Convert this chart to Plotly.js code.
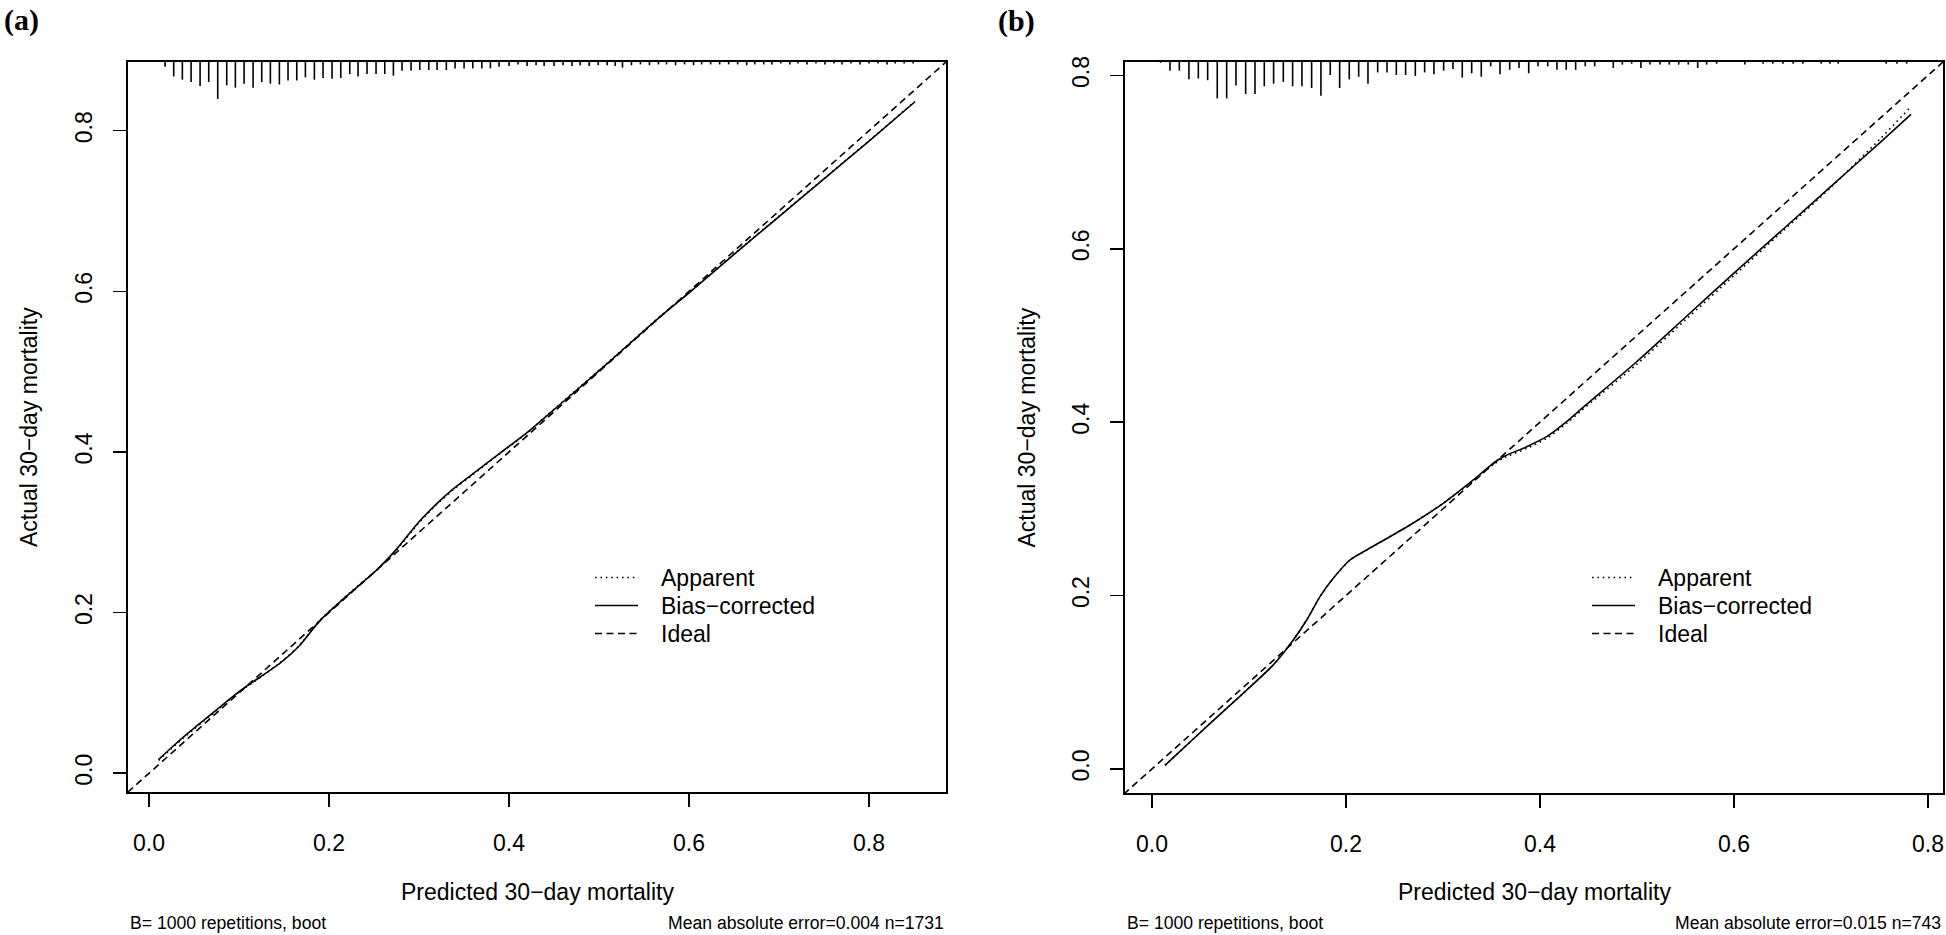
<!DOCTYPE html>
<html>
<head>
<meta charset="utf-8">
<script src="https://cdn.plot.ly/plotly-3.0.1.min.js"></script>
<style>html,body{margin:0;padding:0;background:#fff;}#plot{width:1946px;height:935px;}</style>
</head>
<body>
<div id="plot"></div>
<script>
// ---------- data ----------
const tickVals = [0, 0.2, 0.4, 0.6, 0.8];
const tickLabels = ['0.0', '0.2', '0.4', '0.6', '0.8'];

// Panel (a)
const predA = [0.0105, 0.03, 0.05, 0.075, 0.1, 0.125, 0.1456, 0.166, 0.19, 0.223, 0.253, 0.275, 0.30, 0.32, 0.338, 0.36, 0.394, 0.42, 0.442, 0.472, 0.509, 0.568, 0.6, 0.65, 0.7, 0.75, 0.8, 0.851];
const biasA = [0.017, 0.037, 0.056, 0.079, 0.1015, 0.121, 0.137, 0.1575, 0.19, 0.224, 0.253, 0.279, 0.313, 0.336, 0.354, 0.373, 0.402, 0.424, 0.445, 0.474, 0.510, 0.5685, 0.598, 0.646, 0.693, 0.740, 0.787, 0.836];
const apparentA = [0.016, 0.036, 0.055, 0.078, 0.1008, 0.1205, 0.1375, 0.158, 0.1905, 0.2245, 0.2535, 0.278, 0.312, 0.335, 0.353, 0.372, 0.4015, 0.4235, 0.4455, 0.4745, 0.5105, 0.569, 0.5985, 0.6465, 0.6935, 0.7405, 0.7875, 0.8365];
const rugAx = [0.0178, 0.0274, 0.037, 0.0467, 0.0567, 0.0663, 0.0763, 0.0863, 0.0959, 0.1056, 0.1156, 0.1252, 0.1348, 0.1448, 0.1544, 0.1641, 0.1737, 0.1837, 0.1933, 0.2033, 0.213, 0.223, 0.2322, 0.2422, 0.2522, 0.2619, 0.2715, 0.2811, 0.2911, 0.3008, 0.3108, 0.32, 0.3303, 0.34, 0.35, 0.3597, 0.3697, 0.3793, 0.3889, 0.400, 0.410, 0.420, 0.430, 0.439, 0.450, 0.460, 0.470, 0.479, 0.489, 0.499, 0.509, 0.518, 0.526, 0.536, 0.546, 0.556, 0.566, 0.575, 0.585, 0.595, 0.605, 0.614, 0.624, 0.634, 0.644, 0.654, 0.664, 0.673, 0.683, 0.692, 0.702, 0.712, 0.721, 0.731, 0.741, 0.751, 0.761, 0.770, 0.780, 0.790, 0.800, 0.810, 0.820, 0.829, 0.839, 0.849];
const rugAh = [0.006, 0.018, 0.022, 0.025, 0.030, 0.025, 0.046, 0.029, 0.032, 0.027, 0.032, 0.025, 0.027, 0.028, 0.023, 0.023, 0.019, 0.022, 0.020, 0.021, 0.020, 0.015, 0.018, 0.015, 0.015, 0.015, 0.017, 0.011, 0.011, 0.010, 0.010, 0.010, 0.010, 0.008, 0.008, 0.008, 0.008, 0.008, 0.006, 0.005, 0.003, 0.005, 0.004, 0.005, 0.005, 0.004, 0.005, 0.004, 0.005, 0.004, 0.004, 0.005, 0.007, 0.004, 0.003, 0.004, 0.003, 0.003, 0.004, 0.003, 0.004, 0.003, 0.003, 0.003, 0.003, 0.003, 0.004, 0.003, 0.003, 0.003, 0.002, 0.003, 0.002, 0.003, 0.002, 0.003, 0.002, 0.003, 0.002, 0.003, 0.002, 0.002, 0.003, 0.002, 0.002, 0.002];

// Panel (b)
const predB = [0.0134, 0.0186, 0.06, 0.094, 0.125, 0.1457, 0.1595, 0.1732, 0.1869, 0.2041, 0.2213, 0.266, 0.3003, 0.3313, 0.3519, 0.3622, 0.3863, 0.4069, 0.4275, 0.4412, 0.5, 0.55, 0.6, 0.65, 0.7, 0.75, 0.7825];
const biasB = [0.004, 0.0095, 0.0526, 0.0872, 0.1199, 0.1487, 0.1718, 0.1987, 0.2199, 0.241, 0.2525, 0.2814, 0.3064, 0.3333, 0.3526, 0.3602, 0.3717, 0.3833, 0.4006, 0.414, 0.470, 0.521, 0.572, 0.622, 0.672, 0.722, 0.755];
const apparentB = [0.004, 0.0095, 0.0526, 0.0872, 0.1199, 0.1487, 0.1718, 0.1987, 0.2199, 0.241, 0.2525, 0.2814, 0.3064, 0.3323, 0.3511, 0.3585, 0.3697, 0.3813, 0.3986, 0.412, 0.467, 0.518, 0.569, 0.620, 0.671, 0.726, 0.764];
const rugBx = [0.0089, 0.0186, 0.0282, 0.0381, 0.0478, 0.0574, 0.0673, 0.077, 0.0866, 0.0966, 0.1062, 0.1158, 0.1254, 0.1354, 0.145, 0.1546, 0.1646, 0.1742, 0.1838, 0.1935, 0.2034, 0.2131, 0.2227, 0.2327, 0.2423, 0.2519, 0.2615, 0.2715, 0.2811, 0.2907, 0.3007, 0.3103, 0.3199, 0.3296, 0.3395, 0.3492, 0.3588, 0.3688, 0.3784, 0.3884, 0.398, 0.408, 0.4175, 0.4271, 0.4368, 0.4467, 0.4564, 0.4756, 0.4849, 0.4945, 0.5041, 0.5134, 0.5237, 0.5333, 0.543, 0.5529, 0.5626, 0.5718, 0.5821, 0.6113, 0.630, 0.640, 0.6505, 0.661, 0.671, 0.690, 0.699, 0.7075, 0.757, 0.768, 0.778];
const rugBh = [0.001, 0.010, 0.010, 0.020, 0.019, 0.021, 0.042, 0.042, 0.027, 0.037, 0.037, 0.028, 0.025, 0.023, 0.028, 0.028, 0.030, 0.039, 0.015, 0.030, 0.020, 0.017, 0.025, 0.012, 0.012, 0.015, 0.015, 0.016, 0.012, 0.014, 0.010, 0.008, 0.018, 0.013, 0.017, 0.005, 0.014, 0.009, 0.007, 0.013, 0.005, 0.005, 0.009, 0.009, 0.009, 0.005, 0.005, 0.007, 0.003, 0.002, 0.007, 0.003, 0.003, 0.003, 0.003, 0.003, 0.007, 0.003, 0.002, 0.003, 0.002, 0.002, 0.002, 0.002, 0.002, 0.002, 0.002, 0.002, 0.002, 0.002, 0.002];

const idealLine = [-0.1, 1.0];
const rangeA = [-0.0234, 0.8855];
const rangeB = [-0.0278, 0.8155];

const legendLabels = ['Apparent', 'Bias\u2212corrected', 'Ideal'];
const xTitle = 'Predicted 30\u2212day mortality';
const yTitle = 'Actual 30\u2212day mortality';
const footLeft = 'B= 1000 repetitions, boot';
const footRightA = 'Mean absolute error=0.004 n=1731';
const footRightB = 'Mean absolute error=0.015 n=743';

// ---------- layout helpers ----------
const W = 1946, H = 935;
const fx = p => p / W;
const fy = p => 1 - p / H;
const FONT = 'Liberation Sans, Arial, Helvetica, sans-serif';
const panels = [
  {left: 128, right: 946, top: 62, bottom: 792, label: '(a)', lx: 21.5, ly: 20, foot: footRightA},
  {left: 1125, right: 1943, top: 62, bottom: 793, label: '(b)', lx: 1016, ly: 21, foot: footRightB}
];

function rugTrace(xs, hs, top, xa, ya) {
  const x = [], y = [];
  xs.forEach((v, i) => { x.push(v, v, null); y.push(top, top - hs[i], null); });
  return {x, y, xaxis: xa, yaxis: ya, mode: 'lines', line: {color: '#000', width: 1.6}, hoverinfo: 'skip', showlegend: false};
}
function curve(x, y, xa, ya, dash) {
  return {x, y, xaxis: xa, yaxis: ya, mode: 'lines', line: {color: '#000', width: 1.6, dash: dash, shape: 'spline', smoothing: 0.7}, showlegend: false};
}

const DOT = '1.6px,3.8px';
const DASH = '7px,4.5px';

const traces = [
  curve(idealLine, idealLine, 'x', 'y', DASH),
  curve(predA, apparentA, 'x', 'y', DOT),
  curve(predA, biasA, 'x', 'y', 'solid'),
  rugTrace(rugAx, rugAh, rangeA[1], 'x', 'y'),
  curve(idealLine, idealLine, 'x2', 'y2', DASH),
  curve(predB, apparentB, 'x2', 'y2', DOT),
  curve(predB, biasB, 'x2', 'y2', 'solid'),
  rugTrace(rugBx, rugBh, rangeB[1], 'x2', 'y2')
];

function axis(p, isX, range, anchor) {
  return {
    domain: isX ? [fx(p.left), fx(p.right)] : [fy(p.bottom), fy(p.top)],
    range: range, anchor: anchor,
    tickmode: 'array', tickvals: tickVals, ticktext: tickLabels,
    ticks: 'outside', ticklen: 13, tickwidth: 1.5, tickcolor: '#000',
    showline: true, mirror: true, linewidth: 2, linecolor: '#000',
    showgrid: false, zeroline: false,
    tickfont: {family: FONT, size: 23, color: '#000'},
    tickangle: isX ? 0 : -90,
    ticklabelstandoff: isX ? 16 : 12
  };
}

const annotations = [];
const shapes = [];
const styles = [DOT, 'solid', DASH];
panels.forEach(p => {
  const cx = (p.left + p.right) / 2;
  annotations.push({text: xTitle, x: fx(cx), y: fy(892), xref: 'paper', yref: 'paper', xanchor: 'center', yanchor: 'middle', showarrow: false, font: {family: FONT, size: 23, color: '#000'}});
  annotations.push({text: yTitle, x: fx(p.left - 99), y: fy((p.top + p.bottom) / 2), xref: 'paper', yref: 'paper', xanchor: 'center', yanchor: 'middle', textangle: -90, showarrow: false, font: {family: FONT, size: 23, color: '#000'}});
  annotations.push({text: footLeft, x: fx(p.left), y: fy(923), xref: 'paper', yref: 'paper', xanchor: 'left', yanchor: 'middle', showarrow: false, font: {family: FONT, size: 17.6, color: '#000'}});
  annotations.push({text: p.foot, x: fx(p.right), y: fy(923), xref: 'paper', yref: 'paper', xanchor: 'right', yanchor: 'middle', showarrow: false, font: {family: FONT, size: 17.6, color: '#000'}});
  annotations.push({text: '<b>' + p.label + '</b>', x: fx(p.lx), y: fy(p.ly), xref: 'paper', yref: 'paper', xanchor: 'center', yanchor: 'middle', showarrow: false, font: {family: 'Liberation Serif, Times New Roman, serif', size: 30, color: '#000'}});
  const rows = [577.5, 605.5, 633.5];
  legendLabels.forEach((lab, i) => {
    shapes.push({type: 'line', xref: 'paper', yref: 'paper', x0: fx(p.left + 467), x1: fx(p.left + 510), y0: fy(rows[i]), y1: fy(rows[i]), line: {color: '#000', width: 1.6, dash: styles[i]}});
    annotations.push({text: lab, x: fx(p.left + 531), y: fy(rows[i]), xref: 'paper', yref: 'paper', xanchor: 'left', yanchor: 'middle', showarrow: false, font: {family: FONT, size: 23, color: '#000'}});
  });
});

const layout = {
  width: W, height: H,
  margin: {l: 0, r: 0, t: 0, b: 0},
  paper_bgcolor: '#fff', plot_bgcolor: '#fff',
  showlegend: false,
  xaxis: axis(panels[0], true, rangeA, 'y'),
  yaxis: axis(panels[0], false, rangeA, 'x'),
  xaxis2: axis(panels[1], true, rangeB, 'y2'),
  yaxis2: axis(panels[1], false, rangeB, 'x2'),
  annotations: annotations,
  shapes: shapes
};

Plotly.newPlot('plot', traces, layout, {staticPlot: true, displayModeBar: false});
</script>
</body>
</html>
